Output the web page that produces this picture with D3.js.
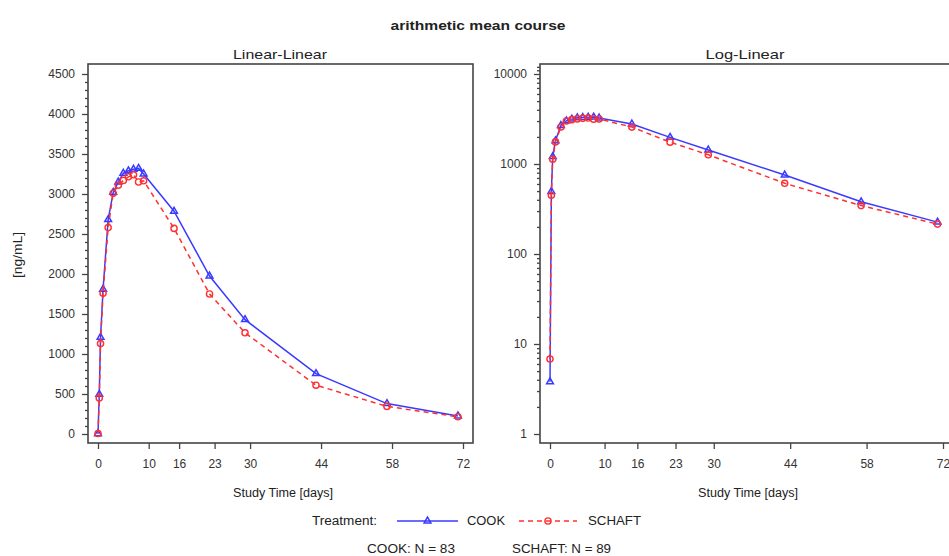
<!DOCTYPE html>
<html>
<head>
<meta charset="utf-8">
<script src="https://cdn.jsdelivr.net/npm/d3@7"></script>
<style>
  html, body { margin: 0; padding: 0; background: #fff; }
  svg { display: block; font-family: "Liberation Sans", Arial, sans-serif; }
</style>
</head>
<body>
<div id="chart"></div>
<script>
// sampling times (days) and arithmetic means (ng/mL)
const times = [0, 0.25, 0.5, 1, 2, 3, 4, 5, 6, 7, 8, 9, 15, 22, 29, 43, 57, 71];
const cook = [3.8, 495, 1210, 1810, 2680, 3020, 3150, 3260, 3290, 3310, 3320, 3250, 2785, 1975, 1430, 755, 380, 226];
const schaft = [6.8, 450, 1130, 1760, 2580, 3010, 3110, 3170, 3215, 3240, 3150, 3165, 2570, 1750, 1265, 610, 345, 215];
const xTicks = [0, 10, 16, 23, 30, 44, 58, 72];
const linTicks = [0, 500, 1000, 1500, 2000, 2500, 3000, 3500, 4000, 4500];
const logTicks = [1, 10, 100, 1000, 10000];
const N = { COOK: 83, SCHAFT: 89 };

const W = 949, H = 556;
const BLUE = "#3a3aff", RED = "#ff3030", AX = "#444";

const svg = d3.select("#chart").append("svg")
    .attr("width", W).attr("height", H);

// the source picture is stretched a bit sideways, so widen text to fit
function label(sel, x, y, txt, size, len, anchor = "middle") {
    return sel.append("text")
        .attr("x", x).attr("y", y)
        .attr("text-anchor", anchor)
        .attr("font-size", size).attr("fill", "#222")
        .attr("textLength", len).attr("lengthAdjust", "spacingAndGlyphs")
        .text(txt);
}

label(svg, 478, 30, "arithmetic mean course", 13, 175).attr("font-weight", "bold");

svg.append("text")
    .attr("transform", "translate(22,255) rotate(-90)")
    .attr("text-anchor", "middle")
    .attr("font-size", 12).attr("fill", "#222")
    .attr("textLength", 46).attr("lengthAdjust", "spacingAndGlyphs")
    .text("[ng/mL]");

const series = [
    { name: "COOK", values: cook, color: BLUE, dash: null, marker: "tri" },
    { name: "SCHAFT", values: schaft, color: RED, dash: "5,4", marker: "circ" }
];

function panel({ left, right, mid, title, titleLen, y, yTicks, minor, fmt }) {
    const top = 64, bottom = 443;
    const x = d3.scaleLinear().domain([0, 72]).range([left + 10, right - 10]);
    const g = svg.append("g");

    label(g, mid, 59, title, 13.5, titleLen);

    // x axis
    const xa = g.append("g").attr("transform", `translate(0,${bottom})`)
        .call(d3.axisBottom(x).tickValues(xTicks).tickSize(6).tickPadding(10));
    // y axis, major + minor
    const ya = g.append("g").attr("transform", `translate(${left},0)`)
        .call(d3.axisLeft(y).tickValues(yTicks).tickSize(6).tickPadding(7).tickFormat(fmt));
    const ym = g.append("g").attr("transform", `translate(${left},0)`)
        .call(d3.axisLeft(y).tickValues(minor).tickSize(3).tickFormat(""));
    [xa, ya, ym].forEach(a => {
        a.select(".domain").remove();
        a.selectAll("line").attr("stroke", AX).attr("stroke-width", 1.3);
        a.selectAll("text").attr("font-size", 12).attr("fill", "#333")
            .attr("font-family", "Liberation Sans, Arial, sans-serif");
    });

    label(g, mid + 3, 497, "Study Time [days]", 12, 100);

    const line = d3.line().x((d, i) => x(times[i])).y(d => y(d));
    series.forEach(s => {
        g.append("path")
            .attr("d", line(s.values))
            .attr("fill", "none").attr("stroke", s.color)
            .attr("stroke-width", 1.5)
            .attr("stroke-dasharray", s.dash);
        drawMarkers(g, s, s.values.map((v, i) => [x(times[i]), y(v)]));
    });

    g.append("rect")
        .attr("x", left).attr("y", top)
        .attr("width", right - left).attr("height", bottom - top)
        .attr("fill", "none").attr("stroke", AX).attr("stroke-width", 1.6);
}

function drawMarkers(g, s, pts) {
    if (s.marker === "tri") {
        const tri = d3.symbol().type(d3.symbolTriangle).size(20);
        g.selectAll(null).data(pts).join("path")
            .attr("transform", d => `translate(${d[0]},${d[1]})`)
            .attr("d", tri).attr("fill", "none")
            .attr("stroke", s.color).attr("stroke-width", 1.5);
    } else {
        g.selectAll(null).data(pts).join("circle")
            .attr("cx", d => d[0]).attr("cy", d => d[1]).attr("r", 3.1)
            .attr("fill", "none").attr("stroke", s.color).attr("stroke-width", 1.4);
    }
}

const yLin = d3.scaleLinear().domain([0, 4500]).range([434, 74]);
const linMinor = d3.range(0, 4501, 100).filter(v => v % 500);
panel({ left: 88, right: 473, mid: 280, title: "Linear-Linear", titleLen: 94, y: yLin,
    yTicks: linTicks, minor: linMinor, fmt: d3.format("d") });

const yLog = d3.scaleLog().domain([1, 10000]).range([434, 74]);
const logMinor = [];
[1, 10, 100, 1000].forEach(p => d3.range(2, 10).forEach(k => logMinor.push(p * k)));
logMinor.push(11000, 12000);
panel({ left: 540, right: 953, mid: 745, title: "Log-Linear", titleLen: 79, y: yLog,
    yTicks: logTicks, minor: logMinor, fmt: d3.format("d") });

// legend
const lg = svg.append("g");
label(lg, 312, 525, "Treatment:", 12, 65, "start");
const legendItems = [
    { s: series[0], x0: 397, x1: 458, tx: 467, len: 38 },
    { s: series[1], x0: 519, x1: 577, tx: 588, len: 53 }
];
legendItems.forEach(({ s, x0, x1, tx, len }) => {
    lg.append("line").attr("x1", x0).attr("x2", x1).attr("y1", 521).attr("y2", 521)
        .attr("stroke", s.color).attr("stroke-width", 1.5).attr("stroke-dasharray", s.dash);
    drawMarkers(lg, s, [[(x0 + x1) / 2, 521]]);
    label(lg, tx, 525, s.name, 12, len, "start");
});
label(lg, 367, 553, `COOK: N = ${N.COOK}`, 12, 88, "start");
label(lg, 512, 553, `SCHAFT: N = ${N.SCHAFT}`, 12, 99, "start");
</script>
</body>
</html>
